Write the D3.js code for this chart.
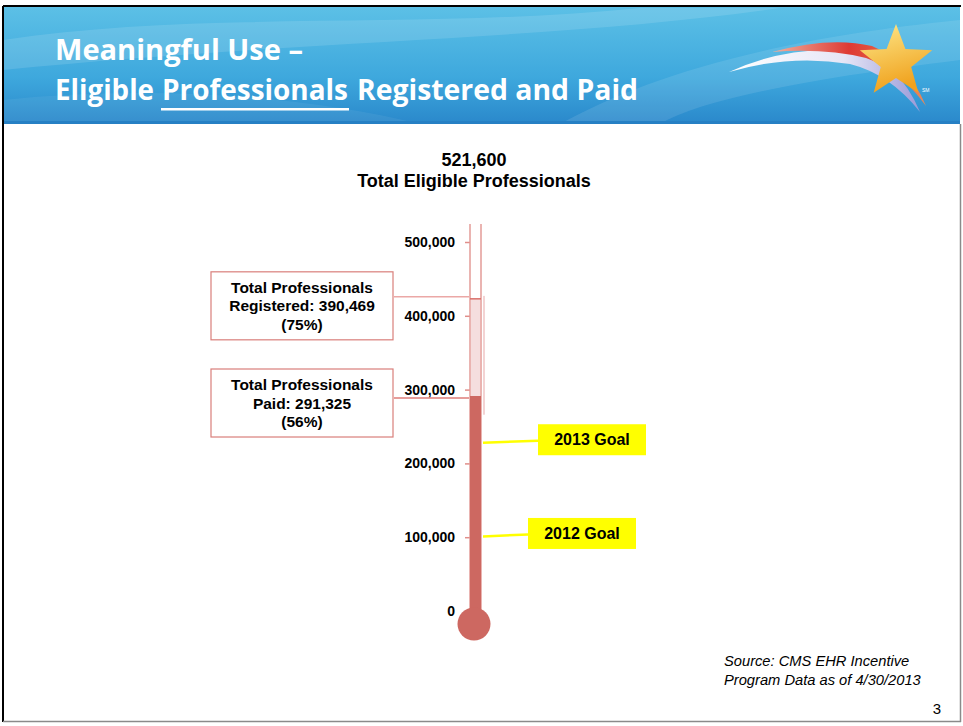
<!DOCTYPE html>
<html>
<head>
<meta charset="utf-8">
<script src="https://cdn.jsdelivr.net/npm/d3@7"></script>
<style>
	body { margin: 0; background: #fff; }
	text { font-family: Arial, 'Liberation Sans', sans-serif; }
</style>
</head>
<body>
<div id="chart-area"></div>
<script>
// DATA
let tickValues = [0, 100000, 200000, 300000, 400000, 500000]
let totalEligible = 521600
let levelNames = ['Registered', 'Paid']
let levelValues = [423000, 291325]   // where the fills stop on the tube
let calloutLines = [
	['Total Professionals', 'Registered: 390,469', '(75%)'],
	['Total Professionals', 'Paid: 291,325', '(56%)']
]
let goalNames = ['2013 Goal', '2012 Goal']
let goalValues = [228000, 101000]

let width = 963
let height = 726

let svg = d3.select('#chart-area').append('svg')
	.attr('width', width)
	.attr('height', height)

let defs = svg.append('defs')

// HEADER

let headGrad = defs.append('linearGradient').attr('id', 'headGrad')
	.attr('x1', 0).attr('y1', 0).attr('x2', 0).attr('y2', 1)
headGrad.append('stop').attr('offset', '0%').attr('stop-color', '#5cc0e6')
headGrad.append('stop').attr('offset', '60%').attr('stop-color', '#3ea8dd')
headGrad.append('stop').attr('offset', '100%').attr('stop-color', '#2a88cb')

let starGrad = defs.append('linearGradient').attr('id', 'starGrad')
	.attr('x1', 0).attr('y1', 0).attr('x2', 0.3).attr('y2', 1)
starGrad.append('stop').attr('offset', '0%').attr('stop-color', '#fde98c')
starGrad.append('stop').attr('offset', '100%').attr('stop-color', '#f0a21e')

let redGrad = defs.append('linearGradient').attr('id', 'redGrad')
	.attr('x1', 0).attr('y1', 0).attr('x2', 1).attr('y2', 0)
redGrad.append('stop').attr('offset', '0%').attr('stop-color', '#f1b2a0')
redGrad.append('stop').attr('offset', '50%').attr('stop-color', '#de3a33')
redGrad.append('stop').attr('offset', '100%').attr('stop-color', '#e98a5a')

let whiteGrad = defs.append('linearGradient').attr('id', 'whiteGrad')
	.attr('x1', 0).attr('y1', 0).attr('x2', 1).attr('y2', 0)
whiteGrad.append('stop').attr('offset', '0%').attr('stop-color', '#ffffff')
whiteGrad.append('stop').attr('offset', '60%').attr('stop-color', '#e6e6f6')
whiteGrad.append('stop').attr('offset', '100%').attr('stop-color', '#9a9ad8')

svg.append('rect')
	.attr('x', 3).attr('y', 7)
	.attr('width', 957).attr('height', 117)
	.attr('fill', 'url(#headGrad)')

// soft streaks in the header
let streaks = [
	'M3,40 C200,10 420,30 640,8 L780,8 C560,40 300,40 3,70 Z',
	'M560,124 C640,80 760,40 960,20 L960,60 C800,80 700,100 660,124 Z',
	'M3,100 C150,85 300,95 420,124 L3,124 Z'
]
svg.selectAll('.streak').data(streaks).enter().append('path')
	.attr('class', 'streak')
	.attr('d', d => d)
	.attr('fill', '#ffffff')
	.attr('opacity', (d, i) => [0.12, 0.1, 0.06][i])

svg.append('rect')
	.attr('x', 3).attr('y', 121)
	.attr('width', 957).attr('height', 3)
	.attr('fill', '#2680c4')

let titleGroup = svg.append('g')
	.attr('fill', '#fff')

let titleParts = [
	{ text: 'Meaningful Use –', x: 55, y: 60, w: 248 },
	{ text: 'Eligible', x: 55, y: 100, w: 99 },
	{ text: 'Professionals', x: 162, y: 100, w: 186 },
	{ text: 'Registered and Paid', x: 357, y: 100, w: 281 }
]
titleGroup.selectAll('text').data(titleParts).enter().append('text')
	.attr('x', d => d.x).attr('y', d => d.y)
	.attr('textLength', d => d.w).attr('lengthAdjust', 'spacingAndGlyphs')
	.style('font-family', "'Open Sans', sans-serif")
	.style('font-weight', 'bold')
	.style('font-size', '29px')
	.text(d => d.text)
titleGroup.append('rect')
	.attr('x', 161).attr('y', 108)
	.attr('width', 188).attr('height', 2.5)

// logo: swoosh + star
let logo = svg.append('g')
logo.append('path')
	.attr('d', 'M729,72 Q790,44 855,52 Q898,60 920,112 Q890,74 850,64 Q790,54 729,72 Z')
	.attr('fill', 'url(#whiteGrad)')
logo.append('path')
	.attr('d', 'M772,52 Q830,36 872,46 Q906,60 926,106 Q900,70 866,58 Q825,48 772,52 Z')
	.attr('fill', 'url(#redGrad)')

let starCx = 896, starCy = 62, rOut = 38, rIn = 16
let starPts = d3.range(10).map(i => {
	let a = -Math.PI / 2 + i * Math.PI / 5
	let r = i % 2 === 0 ? rOut : rIn
	return [starCx + r * Math.cos(a), starCy + r * Math.sin(a)]
})
logo.append('polygon')
	.attr('points', starPts.map(p => p.join(',')).join(' '))
	.attr('fill', 'url(#starGrad)')
logo.append('text')
	.attr('x', 922).attr('y', 92)
	.attr('fill', '#fff')
	.style('font-size', '5px')
	.text('SM')

// slide border
svg.append('line').attr('x1', 3).attr('x2', 961).attr('y1', 6).attr('y2', 6)
	.attr('stroke', '#000').attr('stroke-width', 2)
svg.append('line').attr('x1', 3).attr('x2', 3).attr('y1', 6).attr('y2', 722)
	.attr('stroke', '#000').attr('stroke-width', 2)
svg.append('line').attr('x1', 960.5).attr('x2', 960.5).attr('y1', 124).attr('y2', 722)
	.attr('stroke', '#8a8a8a').attr('stroke-width', 1.5)
svg.append('line').attr('x1', 3).attr('x2', 961).attr('y1', 721.5).attr('y2', 721.5)
	.attr('stroke', '#8a8a8a').attr('stroke-width', 1.5)

// CHART TITLE

let chartTitle = svg.append('text')
	.attr('x', 474).attr('y', 166)
	.attr('text-anchor', 'middle')
	.style('font-weight', 'bold')
	.style('font-size', '18px')
chartTitle.append('tspan').attr('x', 474).text(d3.format(',')(totalEligible))
chartTitle.append('tspan').attr('x', 474).attr('dy', 21).text('Total Eligible Professionals')

// SCALE / AXIS

let y = d3.scaleLinear()
	.domain([0, 500000])
	.range([611, 242])

let tubeLeft = 470
let tubeWidth = 11
let bulbCy = 624

let yAxisGroup = svg.append('g')
	.attr('transform', 'translate(' + tubeLeft + ', 0)')

let yAxisCall = d3.axisLeft(y)
	.tickValues(tickValues)
	.tickFormat(d3.format(','))
	.tickSize(5)
	.tickPadding(10)
yAxisGroup.call(yAxisCall)
yAxisGroup.select('.domain').remove()
yAxisGroup.selectAll('.tick line')
	.attr('stroke', '#e08e8a')
	.attr('stroke-width', 1.5)
yAxisGroup.selectAll('.tick text')
	.attr('fill', '#000')
	.style('font-family', 'Arial, sans-serif')
	.style('font-weight', 'bold')
	.style('font-size', '14px')

// THERMOMETER

// faint shadow next to the tube
svg.append('rect')
	.attr('x', tubeLeft + tubeWidth + 2)
	.attr('y', y(427000))
	.attr('width', 2)
	.attr('height', y(266000) - y(427000))
	.attr('fill', '#f3d3d3')

// open-topped glass tube: two side walls
svg.selectAll('.wall')
	.data([tubeLeft, tubeLeft + tubeWidth])
	.enter().append('line')
	.attr('class', 'wall')
	.attr('x1', d => d).attr('x2', d => d)
	.attr('y1', y(totalEligible) - 2)
	.attr('y2', bulbCy)
	.attr('stroke', '#e39b97')
	.attr('stroke-width', 1.5)

let fillColors = d3.scaleOrdinal()
	.domain(levelNames)
	.range(['#f5dede', '#cd6861'])

svg.selectAll('.level')
	.data(levelNames)
	.enter().append('rect')
	.attr('class', 'level')
	.attr('x', (d, i) => i === 0 ? tubeLeft + 1 : tubeLeft)
	.attr('y', (d, i) => y(levelValues[i]))
	.attr('width', (d, i) => i === 0 ? tubeWidth - 2 : tubeWidth)
	.attr('height', (d, i) => bulbCy - y(levelValues[i]))
	.attr('fill', d => fillColors(d))

svg.append('line')
	.attr('x1', tubeLeft).attr('x2', tubeLeft + tubeWidth)
	.attr('y1', y(levelValues[0])).attr('y2', y(levelValues[0]))
	.attr('stroke', '#d9706b').attr('stroke-width', 1.5)

svg.append('circle')
	.attr('cx', tubeLeft + 4)
	.attr('cy', bulbCy)
	.attr('r', 16.5)
	.attr('fill', '#cd6861')

// CALLOUTS

let callouts = svg.selectAll('.callout')
	.data(levelNames)
	.enter().append('g')
	.attr('class', 'callout')

callouts.append('line')
	.attr('x1', 394).attr('x2', tubeLeft - 1)
	.attr('y1', (d, i) => y(levelValues[i]) + (i === 0 ? -2 : 2))
	.attr('y2', (d, i) => y(levelValues[i]) + (i === 0 ? -2 : 2))
	.attr('stroke', (d, i) => i === 0 ? '#eba8a6' : '#de7c78')
	.attr('stroke-width', 1.5)

callouts.append('rect')
	.attr('x', 211)
	.attr('y', (d, i) => y(levelValues[i]) - 27)
	.attr('width', 182)
	.attr('height', 68)
	.attr('fill', '#fff')
	.attr('stroke', '#d97f7b')
	.attr('stroke-width', 1.2)

callouts.append('text')
	.attr('text-anchor', 'middle')
	.style('font-weight', 'bold')
	.style('font-size', '15.5px')
	.attr('y', (d, i) => y(levelValues[i]) - 27)
	.selectAll('tspan')
	.data((d, i) => calloutLines[i])
	.enter().append('tspan')
	.attr('x', 302)
	.attr('dy', (d, j) => j === 0 ? 21 : 18.5)
	.text(d => d)

// GOALS

let goalBoxLeft = [538, 528]
let goals = svg.selectAll('.goal')
	.data(goalNames)
	.enter().append('g')
	.attr('class', 'goal')

goals.append('line')
	.attr('x1', tubeLeft + tubeWidth + 2)
	.attr('x2', (d, i) => goalBoxLeft[i])
	.attr('y1', (d, i) => y(goalValues[i]))
	.attr('y2', (d, i) => y(goalValues[i]) - 2)
	.attr('stroke', '#ffff00')
	.attr('stroke-width', 2.5)

goals.append('rect')
	.attr('x', (d, i) => goalBoxLeft[i])
	.attr('y', (d, i) => y(goalValues[i]) - 18.5)
	.attr('width', 108)
	.attr('height', 31)
	.attr('fill', '#ffff00')

goals.append('text')
	.attr('x', (d, i) => goalBoxLeft[i] + 54)
	.attr('y', (d, i) => y(goalValues[i]) - 3)
	.attr('dy', '0.35em')
	.attr('text-anchor', 'middle')
	.style('font-weight', 'bold')
	.style('font-size', '16px')
	.text(d => d)

// SOURCE + PAGE NUMBER

let source = svg.append('text')
	.attr('x', 724).attr('y', 666)
	.style('font-style', 'italic')
	.style('font-size', '14.7px')
source.append('tspan').attr('x', 724).text('Source: CMS EHR Incentive')
source.append('tspan').attr('x', 724).attr('dy', 18.5).text('Program Data as of 4/30/2013')

svg.append('text')
	.attr('x', 941).attr('y', 714)
	.attr('text-anchor', 'end')
	.style('font-size', '15px')
	.text('3')
</script>
</body>
</html>
